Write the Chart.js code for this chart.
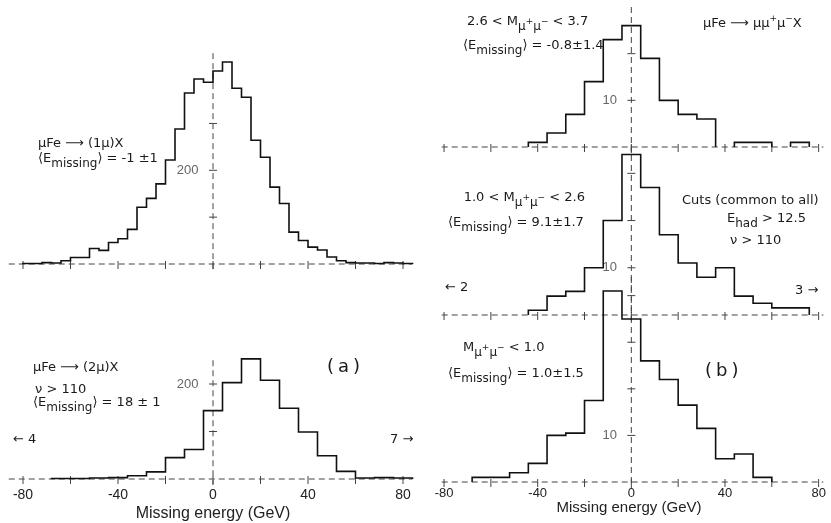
<!DOCTYPE html>
<html>
<head>
<meta charset="utf-8">
<script src="https://cdn.jsdelivr.net/npm/chart.js@4.4.1/dist/chart.umd.min.js"></script>
<style>
  html, body { margin: 0; padding: 0; background: #fff; }
  #fig { position: relative; width: 831px; height: 523px; overflow: hidden;
         font-family: "Liberation Sans", "DejaVu Sans", Arial, sans-serif; color: #1a1a1a; }
  #fig canvas { position: absolute; }
  .t { position: absolute; font-family: "DejaVu Sans", sans-serif; font-size: 13px;
       line-height: 15px; white-space: nowrap; }
  .t sub { font-size: 12px; vertical-align: -5px; line-height: 0; }
  .t sup { font-size: 9px; vertical-align: 6px; line-height: 0; }
  .big { font-size: 18px; line-height: 22px; letter-spacing: 4px; }
</style>
</head>
<body>
<div id="fig">
  <canvas id="a1"></canvas>
  <canvas id="a2"></canvas>
  <canvas id="b1"></canvas>
  <canvas id="b2"></canvas>
  <canvas id="b3"></canvas>

  <!-- (a) upper -->
  <div class="t" style="left:38px;top:135px">μFe ⟶ (1μ)X</div>
  <div class="t" style="left:38px;top:150px">⟨E<sub>missing</sub>⟩ = -1 ±1</div>
  <!-- (a) lower -->
  <div class="t" style="left:33px;top:359px">μFe ⟶ (2μ)X</div>
  <div class="t" style="left:35px;top:381px">ν &gt; 110</div>
  <div class="t" style="left:33px;top:394px">⟨E<sub>missing</sub>⟩ = 18 ± 1</div>
  <div class="t" style="left:13px;top:431px">← 4</div>
  <div class="t" style="left:390px;top:431px">7 →</div>
  <div class="t big" style="left:327px;top:355px">(a)</div>
  <!-- (b) upper -->
  <div class="t" style="left:467px;top:13px">2.6 &lt; M<sub>μ<sup>+</sup>μ<sup>−</sup></sub> &lt; 3.7</div>
  <div class="t" style="left:463px;top:37px">⟨E<sub>missing</sub>⟩ = -0.8±1.4</div>
  <div class="t" style="left:703px;top:15px">μFe ⟶ μμ<sup>+</sup>μ<sup>−</sup>X</div>
  <!-- (b) middle -->
  <div class="t" style="right:246px;top:189px">1.0 &lt; M<sub>μ<sup>+</sup>μ<sup>−</sup></sub> &lt; 2.6</div>
  <div class="t" style="left:448px;top:214px">⟨E<sub>missing</sub>⟩ = 9.1±1.7</div>
  <div class="t" style="left:682px;top:192px">Cuts (common to all)</div>
  <div class="t" style="left:727px;top:210px">E<sub>had</sub> &gt; 12.5</div>
  <div class="t" style="left:730px;top:232px">ν &gt; 110</div>
  <div class="t" style="left:445px;top:279px">← 2</div>
  <div class="t" style="left:795px;top:282px">3 →</div>
  <!-- (b) lower -->
  <div class="t" style="left:463px;top:339px">M<sub>μ<sup>+</sup>μ<sup>−</sup></sub> &lt; 1.0</div>
  <div class="t" style="left:448px;top:365px">⟨E<sub>missing</sub>⟩ = 1.0±1.5</div>
  <div class="t big" style="left:705px;top:359px">(b)</div>
</div>

<script>
// x axis: tick marks every 20 GeV, labels every 40 GeV
const xTickMarks = [-80, -60, -40, -20, 0, 20, 40, 60, 80];
const xTickLabels = [-80, -40, 0, 40, 80];

// (a) upper: muFe -> (1mu)X, 4 GeV bins
const edges1mu = [-80, -76, -72, -68, -64, -60, -56, -52, -48, -44, -40, -36, -32, -28,
  -24, -20, -16, -12, -8, -4, 0, 4, 8, 12, 16, 20, 24, 28, 32, 36, 40, 44, 48, 52, 56,
  60, 64, 68, 72, 76, 80, 84];
const counts1mu = [1, 1, 3, 2, 7, 14, 14, 33, 29, 46, 54, 74, 121, 140,
  171, 222, 288, 365, 395, 388, 412, 431, 375, 356, 264, 228, 164, 129, 68, 50,
  36, 30, 15, 7, 3, 2, 2, 1, 3, 2, 1];

// 8 GeV bins, used by (a) lower and all of (b)
const edges8 = [-84, -76, -68, -60, -52, -44, -36, -28, -20, -12, -4, 4, 12, 20, 28,
  36, 44, 52, 60, 68, 76, 84];
// (a) lower: muFe -> (2mu)X
const counts2mu = [0, 0, 1, 1, 2, 3, 7, 15, 45, 62, 144, 203, 253, 208, 149, 99, 49, 16, 2, 3, 2];
// (b) muFe -> mu mu+ mu- X, by dimuon mass
const countsHighMass = [0, 0, 0, 0, 0, 1, 3, 7, 14, 23, 26, 19, 10, 7, 6, 0, 1, 1, 0, 1, 0];
const countsMidMass = [0, 0, 0, 0, 0, 1, 4, 5, 10, 20, 34, 27, 17, 11, 8, 10, 4, 2.5, 1.5, 1.5, 0];
const countsLowMass = [0, 0, 1, 1, 2, 4, 10, 10.5, 17.5, 41, 35, 26, 22, 16.5, 11.5, 5, 6, 1, 0, 0, 0];

Chart.defaults.font.family = '"Liberation Sans", "DejaVu Sans", Arial, sans-serif';
Chart.defaults.color = "#222";

const PAD = 20;

// dashed axes through y = 0 and x = 0, with small tick marks
const zeroAxes = {
  id: "zeroAxes",
  beforeDatasetsDraw(chart, args, o) {
    const { ctx, scales: { x, y } } = chart;
    const x0 = x.getPixelForValue(0);
    const y0 = y.getPixelForValue(0);
    ctx.save();
    ctx.strokeStyle = "#444";
    ctx.lineWidth = 1;
    ctx.setLineDash([6, 4]);
    ctx.beginPath();
    ctx.moveTo(x.getPixelForValue(o.from), y0);
    ctx.lineTo(x.getPixelForValue(o.to), y0);
    ctx.moveTo(x0, y.getPixelForValue(o.zeroTop));
    ctx.lineTo(x0, y0 + 6);
    ctx.stroke();
    ctx.setLineDash([]);
    ctx.beginPath();
    xTickMarks.forEach((v) => {
      const p = x.getPixelForValue(v);
      ctx.moveTo(p, y0 - 3);
      ctx.lineTo(p, y0 + 5);
    });
    o.yTicks.forEach((v) => {
      const p = y.getPixelForValue(v);
      ctx.moveTo(x0 - 4, p);
      ctx.lineTo(x0 + 4, p);
    });
    ctx.stroke();
    ctx.restore();
  },
};

// histogram outline: flat top over each bin, vertical steps at the edges
function histPoints(edges, counts) {
  const pts = [{ x: edges[0], y: 0 }];
  counts.forEach((c, i) => {
    pts.push({ x: edges[i], y: c });
    pts.push({ x: edges[i + 1], y: c });
  });
  pts.push({ x: edges[edges.length - 1], y: 0 });
  return pts;
}

function panel(id, area, xRange, yMax, edges, counts, extra) {
  const axisH = extra.showLabels ? 44 : 0;
  const w = area.width + 2 * PAD;
  const h = area.height + 2 * PAD + axisH;
  const canvas = document.getElementById(id);
  canvas.width = w;
  canvas.height = h;
  canvas.style.left = area.left - PAD + "px";
  canvas.style.top = area.top - PAD + "px";
  canvas.style.width = w + "px";
  canvas.style.height = h + "px";

  return new Chart(canvas, {
    type: "line",
    data: {
      datasets: [
        {
          data: histPoints(edges, counts),
          borderColor: "#111",
          borderWidth: 1.6,
          pointRadius: 0,
          fill: false,
          clip: false,
          segment: {
            // no solid line where an empty bin sits on the baseline
            borderColor: (ctx) =>
              ctx.p0.parsed.y === 0 && ctx.p1.parsed.y === 0 ? "rgba(0,0,0,0)" : undefined,
          },
        },
      ],
    },
    options: {
      responsive: false,
      animation: false,
      devicePixelRatio: 1,
      layout: { padding: PAD },
      plugins: {
        legend: { display: false },
        tooltip: { enabled: false },
        zeroAxes: {
          from: extra.from,
          to: extra.to,
          zeroTop: extra.zeroTop,
          yTicks: extra.yTicks,
        },
      },
      scales: {
        x: {
          type: "linear",
          min: xRange[0],
          max: xRange[1],
          afterBuildTicks: (s) => {
            s.ticks = xTickLabels.map((v) => ({ value: v }));
          },
          afterFit: (s) => {
            s.height = axisH;
          },
          grid: { display: false, drawTicks: false },
          border: { display: false },
          ticks: {
            display: !!extra.showLabels,
            autoSkip: false,
            maxRotation: 0,
            padding: extra.tickPad || 0,
            color: "#222",
            font: { size: extra.tickSize || 14 },
          },
          title: {
            display: !!extra.showLabels,
            text: "Missing energy (GeV)",
            color: "#222",
            font: { size: extra.titleSize || 15 },
            padding: { top: 0, bottom: extra.titlePad || 0 },
          },
        },
        y: {
          type: "linear",
          min: 0,
          max: yMax,
          position: { x: 0 },
          afterBuildTicks: (s) => {
            s.ticks = [{ value: extra.yLabel }];
          },
          grid: { display: false, drawTicks: false },
          border: { display: false },
          ticks: {
            color: "#666",
            font: { size: 13 },
            callback: (v) => v + "    ",
          },
        },
      },
    },
    plugins: [zeroAxes],
  });
}

panel("a1", { left: 4, top: 11, width: 418, height: 253 }, [-88, 88], 540, edges1mu, counts1mu,
  { from: -86, to: 84, zeroTop: 450, yTicks: [100, 200, 300], yLabel: 200 });
panel("a2", { left: 4, top: 346, width: 418, height: 133 }, [-88, 88], 280, edges8, counts2mu,
  { from: -86, to: 84, zeroTop: 250, yTicks: [100, 200], yLabel: 200, showLabels: true,
    tickSize: 14, tickPad: 8, titleSize: 16, titlePad: 0 });
panel("b1", { left: 430, top: 7, width: 398, height: 140 }, [-86, 84], 30, edges8, countsHighMass,
  { from: -81, to: 82, zeroTop: 30, yTicks: [10, 20], yLabel: 10 });
panel("b2", { left: 430, top: 145, width: 398, height: 170 }, [-86, 84], 36, edges8, countsMidMass,
  { from: -81, to: 82, zeroTop: 36, yTicks: [10, 20, 30], yLabel: 10 });
panel("b3", { left: 430, top: 277, width: 398, height: 205 }, [-86, 84], 44, edges8, countsLowMass,
  { from: -81, to: 82, zeroTop: 44, yTicks: [10, 20, 30, 40], yLabel: 10, showLabels: true,
    tickSize: 13, tickPad: 4, titleSize: 15, titlePad: 9 });
</script>
</body>
</html>
